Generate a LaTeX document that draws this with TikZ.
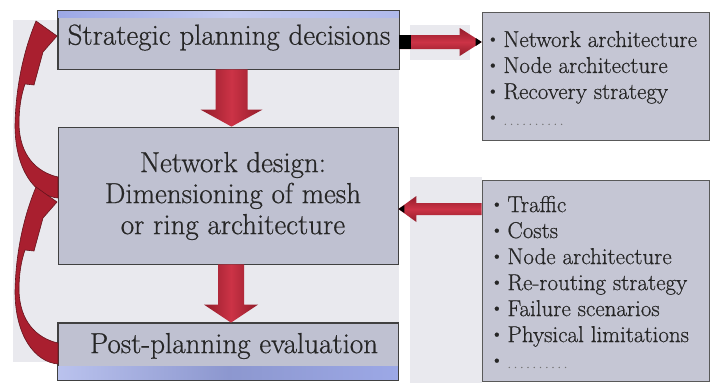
\documentclass[tikz,border=0pt]{standalone}
\usepackage{fontspec}
\usepackage{graphicx}
\usetikzlibrary{calc}
\newfontfamily\darkfont{Latin Modern Roman}[FakeBold=0.6]
\definecolor{boxfill}{HTML}{BFC1D1}
\definecolor{sidefill}{HTML}{C5C6D4}
\definecolor{panel}{HTML}{E9E9EE}
\definecolor{arrdark}{HTML}{921C2A}
\definecolor{arrlight}{HTML}{CC3346}
\definecolor{curvefill}{HTML}{A91F2F}
\definecolor{band}{HTML}{9CA8E6}
\definecolor{txt}{HTML}{262626}
\newcommand\itm{\raisebox{0.25ex}{\scalebox{0.8}{\textbullet}}\hspace{4pt}}
\newcommand\dotsrow{{\color{black!55}\fontsize{15}{15}\selectfont .\,.\,.\,.\,.\,.\,.\,.\,.\,.}}
\newcommand\curvedarrowshape{%
  (58,177) .. controls (36,172) and (20,155) .. (19,125)
  .. controls (19,108) and (21,96) .. (25,84) -- (34,85) -- (43,52) -- (57,36) -- (36,21)
  .. controls (26,45) and (16,80) .. (15,125)
  .. controls (15,170) and (35,196) .. (58,198) -- cycle}
\begin{document}
\begin{tikzpicture}[x=1pt,y=-1pt,
  mainbox/.style={draw=black!75,line width=0.8pt,fill=boxfill,inner sep=0pt},
  sidebox/.style={draw=black!65,line width=0.7pt,fill=sidefill,inner sep=0pt},
  maintext/.style={text=txt,font=\darkfont\fontsize{29}{31}\selectfont,align=center,inner sep=0pt},
  sidetext/.style={text=txt,font=\darkfont\fontsize{23}{26}\selectfont,align=left,anchor=west,inner sep=0pt},
  vshade/.style={left color=arrdark,right color=arrdark,middle color=arrlight},
  hshade/.style={top color=arrdark,bottom color=arrdark,middle color=arrlight},
  curved/.style={fill=curvefill,draw=arrdark!70!black,line width=0.6pt},
]
\useasboundingbox (0,0) rectangle (712,383);
\fill[white] (0,0) rectangle (712,383);
% light background panels
\fill[panel] (13,20) rectangle (399,362);
\fill[panel] (410,177) rectangle (482,383);
\fill[panel] (410,25) rectangle (470,60);

% boxes
\node[mainbox,minimum width=341pt,minimum height=58pt] (b1) at (228.5,40) {};
\node[mainbox,minimum width=340pt,minimum height=137pt] (b2) at (228,195.5) {};
\node[mainbox,minimum width=340pt,minimum height=57pt] (b3) at (228,351.5) {};
\node[sidebox,minimum width=227pt,minimum height=128pt] (rb1) at (595.5,76) {};
\node[sidebox,minimum width=227pt,minimum height=201pt] (rb2) at (595.5,280.5) {};

% textured bands
\shade[left color=band,right color=band!80!white,middle color=band!60!white]
  ([xshift=0.5pt,yshift=-0.5pt]b1.north west) rectangle ([xshift=-0.5pt,yshift=-7pt]b1.north east);
\shade[left color=band!70!white,right color=band,middle color=band!90!black]
  ([xshift=0.5pt,yshift=14pt]b3.south west) rectangle ([xshift=-0.5pt,yshift=0.5pt]b3.south east);
\draw[black!75,line width=0.8pt] (b1.north west) rectangle (b1.south east);
\draw[black!75,line width=0.8pt] (b3.north west) rectangle (b3.south east);

% texts
\node[maintext] (t1) at (229,37.5) {Strategic planning decisions};
\node[maintext] (t2) at (233,196) {Network design:\\Dimensioning of mesh\\or ring architecture};
\node[maintext] (t3) at (234,346) {Post-planning evaluation};
\node[sidetext] (t4) at (486,78) {\itm Network architecture\\\itm Node architecture\\\itm Recovery strategy\\\itm\dotsrow};
\node[sidetext] (t5) at (490,282) {\itm Traffic\\\itm Costs\\\itm Node architecture\\\itm Re-routing strategy\\\itm Failure scenarios\\\itm Physical limitations\\\itm\dotsrow};

% vertical block arrows
\coordinate (d1s) at ([xshift=3pt]b1.south);
\coordinate (d1e) at (d1s |- b2.north);
\shade[vshade] let \p1=(d1s), \p2=(d1e) in
  (\x1-16pt,\y1) -- (\x1+16pt,\y1) -- (\x1+16pt,\y2+17pt) -- (\x1+31pt,\y2+17pt)
  -- (\x1,\y2) -- (\x1-31pt,\y2+17pt) -- (\x1-16pt,\y2+17pt) -- cycle;
\coordinate (d2s) at ([xshift=3pt]b2.south);
\coordinate (d2e) at (d2s |- b3.north);
\shade[vshade] let \p1=(d2s), \p2=(d2e) in
  (\x1-13pt,\y1) -- (\x1+13pt,\y1) -- (\x1+13pt,\y2+18pt) -- (\x1+27pt,\y2+18pt)
  -- (\x1,\y2) -- (\x1-27pt,\y2+18pt) -- (\x1-13pt,\y2+18pt) -- cycle;

% horizontal block arrows
\coordinate (a1s) at ([yshift=-2pt]b1.east);
\coordinate (a1e) at (rb1.west |- a1s);
\shade[hshade] let \p1=(a1s), \p2=(a1e) in
  (\x1,\y1+7pt) -- (\x2-22pt,\y1+7pt) -- (\x2-22pt,\y1+14pt) -- (\x2,\y1)
  -- (\x2-22pt,\y1-14pt) -- (\x2-22pt,\y1-7pt) -- (\x1,\y1-7pt) -- cycle;
\fill[black] let \p1=(a1s) in (\x1,\y1+7pt) rectangle (\x1+12pt,\y1-7pt);
\fill[black] let \p2=(a1e) in (\x2-6pt,\y2+4pt) -- (\x2,\y2) -- (\x2-6pt,\y2-4pt) -- cycle;

\coordinate (a2s) at ([yshift=-13.5pt]b2.east);
\coordinate (a2e) at (rb2.west |- a2s);
\shade[hshade] let \p1=(a2e), \p2=(a2s) in
  (\x1,\y1+6pt) -- (\x2+18pt,\y1+6pt) -- (\x2+18pt,\y1+13pt) -- (\x2,\y1)
  -- (\x2+18pt,\y1-13pt) -- (\x2+18pt,\y1-6pt) -- (\x1,\y1-6pt) -- cycle;
\fill[black] let \p2=(a2s) in (\x2+6pt,\y2+4pt) -- (\x2,\y2) -- (\x2+6pt,\y2-4pt) -- cycle;

% curved feedback arrows
\path[curved] \curvedarrowshape;
\begin{scope}[shift={(0,166)}]
\path[curved] \curvedarrowshape;
\end{scope}
\end{tikzpicture}
\end{document}
